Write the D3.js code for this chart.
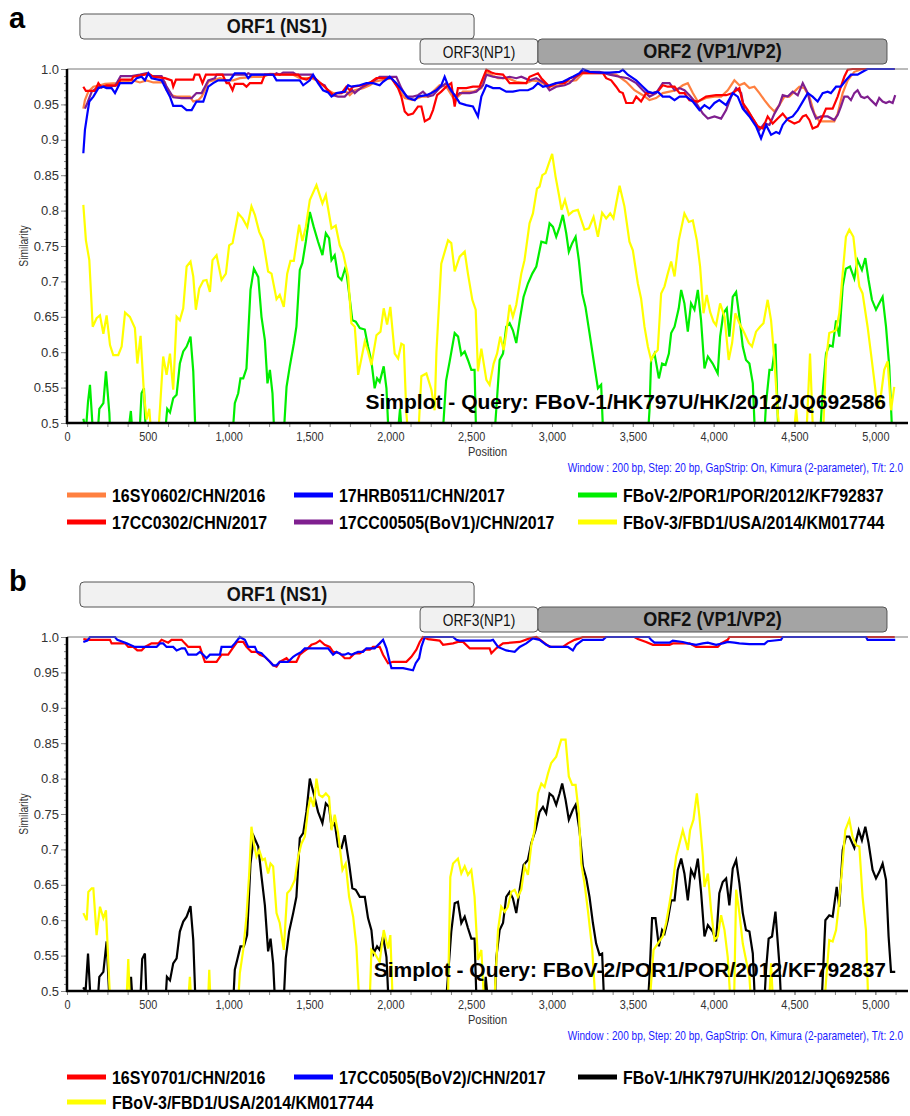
<!DOCTYPE html>
<html>
<head>
<meta charset="utf-8">
<script src="https://cdn.jsdelivr.net/npm/d3@7"></script>
<style>
body { margin: 0; background: #fff; }
svg { display: block; font-family: 'Liberation Sans', Arial, sans-serif; }
</style>
</head>
<body>
<div id="chart"></div>
<script>
// axis ticks
var xTicks = [0, 500, 1000, 1500, 2000, 2500, 3000, 3500, 4000, 4500, 5000];
var xTickLabels = ["0", "500", "1,000", "1,500", "2,000", "2,500", "3,000", "3,500", "4,000", "4,500", "5,000"];
var yTicks = [0.5, 0.55, 0.6, 0.65, 0.7, 0.75, 0.8, 0.85, 0.9, 0.95, 1.0];
var yTickLabels = ["0.5", "0.55", "0.6", "0.65", "0.7", "0.75", "0.8", "0.85", "0.9", "0.95", "1.0"];

// genome map boxes (bp)
var orfNames = ["ORF1 (NS1)", "ORF3(NP1)", "ORF2 (VP1/VP2)"];
var orfStart = [80, 2184, 2913];
var orfEnd = [2518, 2913, 5072];
var orfRow = [0, 1, 1];

// panel a : query FBoV-1/HK797U/HK/2012/JQ692586
var a16SY0602 = [[101,0.944],[111,0.956],[132,0.968],[163,0.975],[204,0.977],[235,0.979],[307,0.980],[332,0.982],[410,0.984],[451,0.981],[492,0.984],[534,0.981],[606,0.981],[616,0.970],[647,0.963],[678,0.961],[760,0.961],[781,0.954],[812,0.956],[833,0.961],[853,0.970],[874,0.982],[904,0.984],[946,0.987],[987,0.984],[1028,0.984],[1069,0.987],[1152,0.989],[1213,0.989],[1255,0.993],[1399,0.992],[1440,0.987],[1512,0.987],[1543,0.984],[1584,0.977],[1615,0.970],[1646,0.966],[1687,0.966],[1728,0.968],[1749,0.963],[1780,0.970],[1831,0.973],[1873,0.977],[1903,0.982],[2007,0.987],[2058,0.970],[2089,0.959],[2140,0.956],[2192,0.961],[2233,0.961],[2264,0.968],[2305,0.977],[2346,0.975],[2398,0.956],[2418,0.961],[2449,0.968],[2511,0.968],[2563,0.973],[2594,0.996],[2625,0.992],[2666,0.987],[2727,0.987],[2779,0.982],[2841,0.980],[2882,0.984],[2923,0.982],[2985,0.975],[3047,0.977],[3088,0.982],[3150,0.984],[3191,0.994],[3335,0.994],[3397,0.992],[3459,0.982],[3510,0.970],[3562,0.963],[3603,0.956],[3644,0.959],[3685,0.966],[3727,0.968],[3768,0.970],[3809,0.977],[3840,0.980],[3871,0.966],[3902,0.954],[3953,0.959],[4005,0.961],[4046,0.961],[4087,0.970],[4128,0.984],[4159,0.977],[4190,0.980],[4221,0.973],[4252,0.975],[4283,0.966],[4314,0.956],[4345,0.947],[4376,0.940],[4406,0.949],[4437,0.961],[4468,0.961],[4499,0.968],[4530,0.975],[4561,0.973],[4592,0.961],[4623,0.937],[4654,0.926],[4695,0.926],[4746,0.926],[4767,0.937],[4798,0.966],[4829,0.984],[4870,0.996],[4921,1.0],[5120,1.0]];

var a17CC0302 = [[101,0.975],[117,0.969],[173,0.969],[194,0.980],[214,0.974],[245,0.977],[307,0.977],[332,0.985],[400,0.985],[410,0.989],[482,0.992],[503,0.994],[534,0.989],[606,0.987],[647,0.984],[657,0.975],[674,0.985],[781,0.985],[791,0.992],[818,0.992],[838,0.980],[859,0.992],[962,0.992],[987,0.980],[1003,0.980],[1024,0.970],[1038,0.979],[1090,0.979],[1110,0.975],[1131,0.980],[1203,0.980],[1224,0.992],[1430,0.992],[1450,0.987],[1481,0.985],[1512,0.989],[1533,0.987],[1568,0.980],[1594,0.975],[1625,0.968],[1646,0.963],[1671,0.966],[1698,0.966],[1728,0.975],[1749,0.970],[1770,0.975],[1831,0.977],[1883,0.982],[1914,0.987],[2007,0.987],[2048,0.973],[2068,0.961],[2089,0.940],[2110,0.935],[2140,0.937],[2171,0.947],[2192,0.947],[2213,0.926],[2243,0.930],[2264,0.942],[2289,0.963],[2315,0.968],[2346,0.975],[2377,0.980],[2398,0.947],[2418,0.973],[2470,0.973],[2511,0.975],[2552,0.975],[2573,0.987],[2594,0.999],[2625,0.995],[2655,0.993],[2697,0.992],[2738,0.980],[2841,0.980],[2861,0.989],[2913,0.994],[2934,0.987],[2985,0.975],[3026,0.980],[3078,0.980],[3109,0.987],[3140,0.989],[3181,0.994],[3315,0.994],[3335,0.987],[3366,0.984],[3397,0.975],[3418,0.968],[3438,0.966],[3459,0.952],[3500,0.952],[3521,0.961],[3551,0.954],[3582,0.966],[3624,0.966],[3654,0.968],[3685,0.977],[3716,0.975],[3758,0.975],[3789,0.966],[3819,0.966],[3850,0.956],[3902,0.954],[3953,0.961],[4015,0.963],[4077,0.963],[4118,0.966],[4159,0.973],[4180,0.952],[4211,0.942],[4242,0.930],[4273,0.919],[4304,0.916],[4334,0.933],[4365,0.923],[4396,0.930],[4427,0.937],[4458,0.928],[4499,0.923],[4530,0.926],[4551,0.933],[4571,0.935],[4592,0.928],[4612,0.916],[4643,0.919],[4674,0.933],[4695,0.944],[4736,0.944],[4767,0.961],[4787,0.975],[4808,0.989],[4829,0.999],[4860,1.0],[5120,1.0]];

var a17HRB0511 = [[101,0.881],[111,0.914],[126,0.937],[138,0.954],[163,0.961],[194,0.973],[225,0.975],[245,0.973],[276,0.973],[297,0.966],[327,0.980],[400,0.980],[431,0.987],[461,0.989],[482,0.984],[503,0.994],[523,0.987],[585,0.984],[616,0.970],[637,0.961],[657,0.948],[709,0.948],[740,0.942],[771,0.942],[801,0.954],[843,0.954],[874,0.975],[904,0.980],[935,0.984],[1007,0.984],[1038,0.994],[1100,0.994],[1121,0.987],[1141,0.992],[1275,0.992],[1296,0.984],[1440,0.984],[1461,0.977],[1502,0.984],[1522,0.992],[1553,0.980],[1584,0.970],[1615,0.967],[1636,0.961],[1667,0.966],[1718,0.968],[1739,0.977],[1759,0.975],[1811,0.977],[1852,0.980],[1893,0.980],[1934,0.977],[1955,0.982],[1996,0.989],[2037,0.980],[2079,0.968],[2110,0.959],[2151,0.956],[2171,0.961],[2223,0.963],[2254,0.966],[2284,0.970],[2315,0.977],[2336,0.989],[2357,0.977],[2388,0.966],[2418,0.956],[2429,0.952],[2470,0.949],[2511,0.947],[2542,0.933],[2563,0.961],[2594,0.977],[2635,0.973],[2676,0.973],[2717,0.968],[2758,0.968],[2800,0.970],[2851,0.970],[2882,0.973],[2913,0.980],[2944,0.975],[2985,0.977],[3026,0.980],[3067,0.982],[3129,0.989],[3170,0.994],[3191,1.0],[3232,0.996],[3294,0.995],[3356,0.995],[3418,0.996],[3438,0.999],[3469,0.992],[3521,0.984],[3562,0.975],[3593,0.968],[3624,0.966],[3654,0.968],[3685,0.961],[3727,0.961],[3758,0.956],[3789,0.961],[3830,0.961],[3871,0.954],[3912,0.942],[3943,0.949],[3974,0.944],[4005,0.952],[4035,0.956],[4077,0.949],[4118,0.966],[4149,0.961],[4180,0.944],[4221,0.933],[4262,0.919],[4293,0.902],[4324,0.921],[4355,0.907],[4386,0.911],[4406,0.909],[4427,0.921],[4458,0.930],[4489,0.933],[4520,0.942],[4551,0.954],[4582,0.966],[4612,0.961],[4643,0.954],[4674,0.966],[4705,0.968],[4725,0.966],[4757,0.975],[4787,0.975],[4818,0.984],[4849,0.992],[4890,0.992],[4921,0.996],[4952,1.0],[5120,1.0]];

var a17CC00505 = [[111,0.944],[126,0.952],[153,0.968],[194,0.975],[245,0.976],[297,0.976],[332,0.990],[400,0.990],[451,0.992],[492,0.994],[523,0.990],[585,0.990],[616,0.975],[657,0.960],[709,0.959],[771,0.959],[801,0.966],[833,0.966],[874,0.984],[915,0.987],[925,0.992],[1110,0.992],[1121,0.994],[1141,0.992],[1285,0.992],[1296,0.994],[1316,0.992],[1337,0.995],[1399,0.995],[1419,0.992],[1512,0.992],[1543,0.984],[1564,0.980],[1594,0.977],[1615,0.968],[1646,0.963],[1677,0.961],[1718,0.961],[1739,0.966],[1765,0.970],[1780,0.966],[1800,0.970],[1831,0.975],[1873,0.980],[1903,0.984],[1934,0.989],[2037,0.989],[2068,0.973],[2099,0.961],[2140,0.961],[2171,0.963],[2202,0.968],[2233,0.961],[2264,0.963],[2305,0.973],[2346,0.980],[2377,0.968],[2408,0.961],[2429,0.966],[2491,0.966],[2532,0.968],[2573,0.977],[2594,0.992],[2635,0.989],[2697,0.987],[2738,0.989],[2779,0.987],[2810,0.989],[2861,0.984],[2903,0.987],[2954,0.980],[2985,0.970],[3026,0.975],[3078,0.977],[3109,0.980],[3150,0.989],[3191,0.996],[3294,0.996],[3356,0.992],[3418,0.989],[3469,0.987],[3521,0.980],[3562,0.970],[3603,0.961],[3644,0.966],[3685,0.980],[3727,0.980],[3758,0.970],[3789,0.973],[3819,0.970],[3850,0.963],[3891,0.952],[3933,0.937],[3964,0.930],[4005,0.933],[4046,0.930],[4077,0.942],[4108,0.961],[4139,0.973],[4170,0.966],[4190,0.942],[4221,0.937],[4252,0.926],[4283,0.914],[4314,0.923],[4345,0.921],[4376,0.937],[4406,0.949],[4427,0.963],[4458,0.961],[4489,0.968],[4520,0.963],[4551,0.980],[4582,0.966],[4602,0.947],[4633,0.930],[4664,0.933],[4705,0.933],[4746,0.928],[4767,0.935],[4787,0.947],[4808,0.961],[4829,0.961],[4849,0.956],[4870,0.966],[4890,0.970],[4911,0.961],[4932,0.959],[4952,0.961],[4973,0.956],[5004,0.949],[5024,0.959],[5045,0.954],[5066,0.952],[5086,0.954],[5107,0.952],[5123,0.963]];

var aFBoV2 = [[101,0.506],[117,0.49],[130,0.53],[142,0.554],[165,0.47],[185,0.47],[200,0.52],[225,0.528],[241,0.573],[262,0.514],[270,0.47],[370,0.47],[395,0.517],[410,0.47],[445,0.47],[461,0.542],[476,0.549],[490,0.47],[600,0.47],[620,0.52],[637,0.515],[657,0.535],[678,0.54],[698,0.584],[719,0.601],[740,0.608],[764,0.622],[781,0.573],[797,0.47],[1020,0.47],[1038,0.528],[1059,0.542],[1073,0.563],[1090,0.563],[1110,0.577],[1135,0.688],[1156,0.718],[1183,0.706],[1203,0.650],[1224,0.617],[1240,0.556],[1255,0.575],[1271,0.542],[1285,0.47],[1337,0.47],[1358,0.551],[1378,0.580],[1403,0.612],[1419,0.636],[1440,0.716],[1456,0.726],[1477,0.756],[1502,0.798],[1526,0.777],[1553,0.756],[1580,0.737],[1601,0.768],[1621,0.761],[1636,0.730],[1656,0.737],[1677,0.707],[1698,0.702],[1724,0.721],[1745,0.683],[1765,0.645],[1786,0.643],[1811,0.634],[1842,0.632],[1862,0.608],[1883,0.587],[1903,0.549],[1918,0.563],[1934,0.558],[1959,0.580],[1976,0.549],[1992,0.47],[2040,0.47],[2060,0.52],[2075,0.47],[2320,0.47],[2345,0.56],[2367,0.587],[2398,0.627],[2419,0.622],[2439,0.596],[2460,0.601],[2480,0.589],[2501,0.575],[2521,0.575],[2532,0.47],[2640,0.47],[2655,0.518],[2676,0.589],[2697,0.598],[2717,0.636],[2738,0.641],[2758,0.631],[2779,0.613],[2800,0.645],[2824,0.678],[2851,0.697],[2878,0.711],[2903,0.721],[2934,0.756],[2964,0.754],[2985,0.782],[3006,0.777],[3026,0.763],[3047,0.777],[3067,0.794],[3088,0.768],[3104,0.742],[3125,0.754],[3146,0.763],[3166,0.730],[3187,0.683],[3207,0.664],[3232,0.627],[3257,0.589],[3284,0.549],[3304,0.554],[3319,0.47],[3590,0.47],[3603,0.518],[3613,0.589],[3634,0.598],[3661,0.563],[3681,0.584],[3702,0.582],[3723,0.598],[3737,0.627],[3758,0.636],[3784,0.662],[3799,0.688],[3819,0.669],[3840,0.629],[3860,0.669],[3881,0.660],[3902,0.688],[3922,0.645],[3943,0.577],[3964,0.594],[3994,0.584],[4025,0.570],[4040,0.622],[4060,0.655],[4081,0.662],[4097,0.622],[4118,0.678],[4139,0.685],[4159,0.650],[4180,0.608],[4200,0.589],[4221,0.584],[4242,0.556],[4258,0.47],[4310,0.47],[4324,0.528],[4345,0.575],[4361,0.575],[4382,0.612],[4402,0.47],[4654,0.47],[4674,0.542],[4695,0.598],[4715,0.610],[4736,0.608],[4757,0.645],[4777,0.622],[4798,0.693],[4818,0.718],[4843,0.721],[4870,0.704],[4890,0.730],[4917,0.716],[4938,0.733],[4958,0.702],[4979,0.674],[5004,0.660],[5024,0.669],[5045,0.678],[5066,0.636],[5086,0.580],[5107,0.47]];

var aFBoV3 = [[101,0.808],[117,0.758],[138,0.730],[159,0.636],[183,0.648],[204,0.652],[225,0.626],[245,0.652],[266,0.610],[286,0.596],[317,0.596],[338,0.608],[359,0.656],[389,0.650],[420,0.634],[435,0.584],[455,0.623],[476,0.542],[492,0.505],[509,0.52],[525,0.47],[560,0.47],[575,0.52],[595,0.594],[616,0.568],[637,0.598],[657,0.547],[678,0.650],[698,0.645],[719,0.662],[740,0.721],[764,0.728],[781,0.707],[797,0.660],[818,0.690],[843,0.701],[863,0.702],[884,0.685],[900,0.730],[925,0.737],[956,0.702],[983,0.711],[1003,0.751],[1024,0.754],[1059,0.796],[1086,0.789],[1115,0.777],[1141,0.806],[1162,0.794],[1189,0.770],[1213,0.758],[1244,0.714],[1265,0.711],[1296,0.675],[1316,0.681],[1341,0.664],[1362,0.711],[1382,0.729],[1403,0.729],[1436,0.780],[1456,0.757],[1477,0.777],[1502,0.815],[1543,0.836],[1580,0.810],[1601,0.822],[1636,0.775],[1662,0.779],[1687,0.751],[1708,0.740],[1739,0.707],[1759,0.641],[1780,0.636],[1801,0.568],[1842,0.615],[1862,0.601],[1883,0.582],[1914,0.624],[1939,0.629],[1959,0.662],[1980,0.639],[2000,0.664],[2027,0.598],[2048,0.591],[2068,0.612],[2083,0.610],[2099,0.514],[2115,0.47],[2170,0.47],[2192,0.566],[2223,0.570],[2254,0.547],[2274,0.518],[2285,0.60],[2315,0.725],[2357,0.758],[2377,0.754],[2398,0.714],[2429,0.735],[2460,0.742],[2480,0.711],[2507,0.674],[2528,0.660],[2542,0.573],[2563,0.605],[2594,0.561],[2614,0.554],[2639,0.584],[2660,0.598],[2680,0.622],[2701,0.603],[2717,0.627],[2738,0.667],[2758,0.650],[2779,0.667],[2810,0.711],[2830,0.730],[2861,0.782],[2882,0.796],[2907,0.831],[2923,0.834],[2940,0.850],[2960,0.853],[2981,0.867],[3001,0.880],[3022,0.848],[3043,0.822],[3059,0.801],[3080,0.815],[3104,0.794],[3129,0.799],[3160,0.801],[3181,0.787],[3201,0.773],[3228,0.775],[3257,0.791],[3284,0.763],[3310,0.797],[3335,0.789],[3360,0.796],[3380,0.789],[3397,0.810],[3418,0.835],[3448,0.806],[3479,0.756],[3500,0.744],[3531,0.697],[3551,0.676],[3572,0.636],[3593,0.608],[3613,0.589],[3634,0.598],[3654,0.603],[3675,0.683],[3696,0.693],[3716,0.711],[3737,0.728],[3758,0.707],[3784,0.758],[3819,0.796],[3846,0.784],[3871,0.786],[3896,0.758],[3916,0.721],[3937,0.655],[3957,0.681],[3978,0.657],[3999,0.643],[4015,0.638],[4040,0.669],[4067,0.650],[4093,0.589],[4114,0.613],[4134,0.655],[4159,0.641],[4190,0.627],[4217,0.613],[4237,0.608],[4262,0.629],[4287,0.636],[4308,0.641],[4334,0.674],[4355,0.645],[4376,0.589],[4396,0.514],[4417,0.47],[4490,0.47],[4510,0.52],[4530,0.47],[4571,0.47],[4596,0.598],[4617,0.47],[4674,0.47],[4695,0.589],[4715,0.627],[4757,0.631],[4777,0.655],[4798,0.711],[4818,0.763],[4839,0.773],[4864,0.763],[4880,0.730],[4901,0.693],[4921,0.683],[4952,0.636],[4973,0.598],[4993,0.561],[5014,0.52],[5035,0.54],[5055,0.575],[5076,0.587],[5097,0.518],[5117,0.551]];

// panel b : query FBoV-2/POR1/POR/2012/KF792837
var b16SY0701 = [[101,0.997],[132,0.996],[266,0.996],[276,0.991],[359,0.991],[379,0.986],[410,0.986],[435,0.981],[461,0.981],[482,0.986],[523,0.991],[565,0.991],[585,0.996],[626,0.992],[647,0.996],[709,0.996],[729,0.991],[750,0.986],[822,0.986],[853,0.965],[925,0.965],[956,0.975],[997,0.975],[1024,0.984],[1053,0.993],[1090,0.993],[1110,0.986],[1141,0.979],[1172,0.979],[1193,0.975],[1224,0.972],[1255,0.965],[1275,0.960],[1296,0.958],[1316,0.965],[1358,0.970],[1378,0.965],[1419,0.965],[1440,0.975],[1461,0.979],[1491,0.984],[1512,0.989],[1539,0.991],[1564,0.995],[1594,0.989],[1625,0.986],[1646,0.979],[1687,0.977],[1718,0.970],[1749,0.970],[1780,0.977],[1811,0.977],[1842,0.982],[1873,0.982],[1893,0.986],[1934,0.986],[1955,0.975],[1986,0.963],[2017,0.965],[2058,0.965],[2099,0.965],[2130,0.972],[2161,0.982],[2182,0.993],[2202,1.0],[2233,0.997],[2305,0.995],[2326,0.989],[2388,0.991],[2418,0.993],[2450,0.993],[2491,0.984],[2614,0.984],[2625,0.977],[2655,0.984],[2697,0.991],[2800,0.993],[2861,0.998],[2903,1.0],[2944,0.993],[2985,0.986],[3067,0.986],[3098,0.991],[3140,0.996],[3170,0.998],[3190,1.0],[3510,1.0],[3531,0.997],[3582,0.993],[3624,0.989],[3727,0.989],[3747,0.991],[3850,0.991],[3891,0.986],[4025,0.986],[4046,0.991],[4087,0.996],[4097,1.0],[5120,1.0]];

var b17CC0505 = [[101,0.993],[126,0.995],[142,1.0],[297,1.0],[311,0.996],[348,0.993],[369,0.991],[389,0.989],[420,0.986],[554,0.986],[575,0.991],[595,0.991],[616,0.986],[657,0.986],[678,0.981],[709,0.984],[729,0.984],[750,0.975],[801,0.975],[822,0.979],[843,0.975],[863,0.970],[884,0.975],[946,0.975],[956,0.986],[1018,0.986],[1038,0.991],[1069,1.0],[1100,0.996],[1121,0.986],[1162,0.986],[1176,0.979],[1203,0.977],[1224,0.972],[1255,0.965],[1275,0.960],[1296,0.960],[1316,0.965],[1368,0.965],[1399,0.972],[1419,0.975],[1450,0.979],[1471,0.984],[1615,0.984],[1646,0.975],[1667,0.979],[1698,0.975],[1718,0.975],[1739,0.977],[1759,0.975],[1800,0.979],[1831,0.979],[1852,0.984],[1903,0.984],[1934,0.991],[1955,0.996],[1976,0.984],[1996,0.965],[2007,0.956],[2079,0.956],[2140,0.953],[2157,0.963],[2178,0.970],[2192,0.986],[2213,1.0],[2388,1.0],[2408,0.996],[2429,0.995],[2620,0.995],[2635,0.996],[2666,0.986],[2717,0.981],[2769,0.979],[2800,0.986],[2841,0.991],[2882,0.998],[2923,0.996],[2964,0.989],[2995,0.986],[3098,0.986],[3129,0.981],[3150,0.989],[3191,0.996],[3315,0.996],[3335,1.0],[3600,1.0],[3613,0.996],[3634,0.992],[3727,0.992],[3747,0.995],[3809,0.993],[3840,0.991],[3891,0.989],[3933,0.991],[3964,0.992],[4015,0.989],[4056,0.991],[4087,0.993],[4128,0.992],[4159,0.991],[4221,0.990],[4252,0.990],[4314,0.990],[4334,0.994],[4417,0.996],[4427,1.0],[4942,1.0],[4952,0.996],[5123,0.996]];

var bFBoV1 = [[100,0.505],[115,0.50],[130,0.553],[150,0.47],[185,0.47],[200,0.52],[225,0.527],[245,0.57],[266,0.47],[380,0.47],[396,0.52],[410,0.47],[450,0.47],[465,0.545],[482,0.553],[495,0.47],[605,0.47],[618,0.52],[637,0.515],[657,0.539],[678,0.546],[698,0.584],[719,0.598],[740,0.605],[764,0.620],[781,0.572],[797,0.47],[1025,0.47],[1038,0.530],[1053,0.544],[1073,0.563],[1094,0.563],[1114,0.579],[1135,0.680],[1156,0.718],[1183,0.704],[1203,0.662],[1224,0.621],[1244,0.556],[1259,0.574],[1275,0.539],[1290,0.47],[1337,0.47],[1353,0.546],[1374,0.584],[1399,0.610],[1419,0.633],[1440,0.716],[1461,0.723],[1481,0.753],[1502,0.800],[1526,0.779],[1553,0.753],[1580,0.737],[1601,0.765],[1621,0.760],[1636,0.732],[1656,0.737],[1677,0.704],[1698,0.702],[1718,0.720],[1745,0.680],[1765,0.645],[1786,0.643],[1811,0.633],[1842,0.633],[1862,0.603],[1883,0.586],[1897,0.553],[1918,0.563],[1934,0.558],[1955,0.577],[1976,0.548],[1992,0.47],[2340,0.47],[2377,0.584],[2398,0.624],[2418,0.626],[2439,0.596],[2460,0.605],[2480,0.589],[2501,0.574],[2521,0.574],[2535,0.47],[2575,0.47],[2590,0.52],[2610,0.47],[2645,0.47],[2655,0.546],[2676,0.586],[2697,0.596],[2717,0.633],[2738,0.640],[2758,0.631],[2779,0.610],[2800,0.643],[2824,0.678],[2851,0.685],[2872,0.709],[2898,0.727],[2923,0.753],[2944,0.760],[2964,0.751],[2985,0.779],[3006,0.775],[3026,0.763],[3047,0.779],[3063,0.793],[3084,0.770],[3104,0.742],[3129,0.756],[3146,0.763],[3170,0.727],[3191,0.676],[3212,0.659],[3232,0.633],[3253,0.596],[3273,0.567],[3294,0.551],[3310,0.553],[3325,0.47],[3590,0.47],[3603,0.520],[3619,0.603],[3640,0.603],[3661,0.563],[3681,0.586],[3696,0.581],[3716,0.600],[3737,0.628],[3758,0.628],[3778,0.671],[3799,0.687],[3819,0.666],[3840,0.628],[3860,0.671],[3881,0.661],[3902,0.687],[3922,0.640],[3943,0.577],[3964,0.593],[3994,0.584],[4015,0.570],[4035,0.638],[4056,0.654],[4077,0.659],[4097,0.621],[4118,0.673],[4139,0.685],[4159,0.652],[4180,0.610],[4200,0.586],[4221,0.584],[4242,0.553],[4258,0.47],[4310,0.47],[4324,0.530],[4340,0.574],[4361,0.577],[4382,0.612],[4406,0.539],[4420,0.47],[4665,0.47],[4691,0.600],[4715,0.607],[4736,0.605],[4761,0.647],[4777,0.619],[4798,0.699],[4818,0.718],[4839,0.718],[4870,0.702],[4897,0.727],[4917,0.713],[4938,0.732],[4958,0.709],[4983,0.671],[5004,0.659],[5024,0.668],[5045,0.680],[5066,0.657],[5082,0.577],[5097,0.527],[5123,0.527]];

var bFBoV3 = [[101,0.610],[122,0.600],[132,0.640],[153,0.645],[163,0.645],[183,0.579],[204,0.619],[225,0.603],[241,0.614],[256,0.539],[270,0.47],[365,0.47],[379,0.545],[392,0.47],[745,0.47],[760,0.52],[772,0.47],[870,0.47],[880,0.53],[890,0.47],[1055,0.47],[1069,0.525],[1090,0.558],[1110,0.605],[1127,0.666],[1141,0.732],[1156,0.708],[1172,0.690],[1189,0.699],[1209,0.685],[1224,0.687],[1244,0.666],[1259,0.680],[1275,0.676],[1296,0.610],[1316,0.596],[1341,0.558],[1362,0.638],[1382,0.643],[1409,0.657],[1430,0.690],[1450,0.708],[1471,0.718],[1491,0.756],[1506,0.774],[1526,0.760],[1543,0.800],[1559,0.777],[1580,0.774],[1601,0.779],[1621,0.774],[1636,0.727],[1656,0.749],[1677,0.723],[1704,0.671],[1724,0.680],[1745,0.633],[1770,0.605],[1790,0.563],[1811,0.47],[1870,0.47],[1883,0.558],[1903,0.553],[1934,0.541],[1959,0.586],[1986,0.560],[2000,0.579],[2017,0.47],[2355,0.47],[2371,0.661],[2388,0.680],[2418,0.687],[2439,0.666],[2460,0.676],[2480,0.664],[2501,0.671],[2521,0.633],[2542,0.544],[2563,0.558],[2583,0.47],[2640,0.47],[2666,0.586],[2686,0.619],[2707,0.612],[2727,0.619],[2748,0.640],[2769,0.643],[2789,0.633],[2810,0.643],[2830,0.676],[2851,0.664],[2872,0.706],[2892,0.727],[2913,0.779],[2934,0.793],[2954,0.788],[2975,0.807],[2995,0.822],[3026,0.831],[3057,0.855],[3084,0.855],[3104,0.803],[3125,0.791],[3146,0.791],[3166,0.751],[3181,0.680],[3201,0.652],[3222,0.614],[3249,0.558],[3273,0.47],[3600,0.47],[3628,0.558],[3654,0.567],[3685,0.577],[3706,0.596],[3727,0.624],[3747,0.652],[3768,0.690],[3789,0.709],[3809,0.727],[3830,0.709],[3840,0.699],[3854,0.727],[3875,0.742],[3896,0.779],[3912,0.746],[3933,0.690],[3943,0.647],[3964,0.666],[3984,0.614],[4005,0.572],[4025,0.577],[4046,0.607],[4067,0.586],[4087,0.548],[4108,0.47],[4125,0.47],[4139,0.643],[4159,0.610],[4180,0.567],[4200,0.544],[4221,0.520],[4235,0.47],[4340,0.47],[4355,0.539],[4370,0.47],[4680,0.47],[4715,0.572],[4736,0.570],[4757,0.586],[4773,0.619],[4794,0.671],[4814,0.727],[4839,0.742],[4859,0.718],[4880,0.706],[4901,0.704],[4921,0.633],[4942,0.586],[4958,0.47]];

var panels = [
  {
    letter: "a", top: 69, letterY: 28, legendY: [495, 522],
    title: "Simplot - Query: FBoV-1/HK797U/HK/2012/JQ692586",
    // drawing order
    series: [
      {name: "FBoV-2/POR1/POR/2012/KF792837", color: "#00ee00", values: aFBoV2, slot: [0, 2]},
      {name: "FBoV-3/FBD1/USA/2014/KM017744", color: "#ffff00", values: aFBoV3, slot: [1, 2]},
      {name: "16SY0602/CHN/2016", color: "#ff8040", values: a16SY0602, slot: [0, 0]},
      {name: "17CC00505(BoV1)/CHN/2017", color: "#7f1f8f", values: a17CC00505, slot: [1, 1]},
      {name: "17CC0302/CHN/2017", color: "#ff0000", values: a17CC0302, slot: [1, 0]},
      {name: "17HRB0511/CHN/2017", color: "#0000ff", values: a17HRB0511, slot: [0, 1]}
    ]
  },
  {
    letter: "b", top: 637, letterY: 591, legendY: [1077, 1102],
    title: "Simplot - Query: FBoV-2/POR1/POR/2012/KF792837",
    series: [
      {name: "FBoV-1/HK797U/HK/2012/JQ692586", color: "#000000", values: bFBoV1, slot: [0, 2]},
      {name: "FBoV-3/FBD1/USA/2014/KM017744", color: "#ffff00", values: bFBoV3, slot: [1, 0]},
      {name: "16SY0701/CHN/2016", color: "#ff0000", values: b16SY0701, slot: [0, 0]},
      {name: "17CC0505(BoV2)/CHN/2017", color: "#0000ff", values: b17CC0505, slot: [0, 1]}
    ]
  }
];

var width = 910, height = 1116;
var plotLeft = 67, plotRight = 908, plotH = 354;
var legendCols = [67, 294, 578];

// condensed look: place text at (tx, ty) and squeeze it horizontally
function squeeze(sel, tx, ty, f, extra) {
    sel.attr("x", 0).attr("y", 0)
        .attr("transform", "translate(" + tx + "," + ty + ")" + (extra || "") + " scale(" + f + ",1)");
}

var svg = d3.select("#chart").append("svg")
    .attr("width", width)
    .attr("height", height);

var x = d3.scaleLinear().domain([0, 5202]).range([plotLeft, plotRight]);

panels.forEach(function (p, pi) {
    var top = p.top, bottom = top + plotH;
    var y = d3.scaleLinear().domain([0.5, 1]).range([bottom, top]);
    var g = svg.append("g");

    // panel letter
    g.append("text")
        .attr("x", 9).attr("y", p.letterY)
        .attr("font-size", 29).attr("font-weight", "bold")
        .text(p.letter);

    // genome map
    orfNames.forEach(function (name, i) {
        var y0 = orfRow[i] === 0 ? top - 55 : top - 30;
        g.append("rect")
            .attr("x", x(orfStart[i])).attr("y", y0)
            .attr("width", x(orfEnd[i]) - x(orfStart[i])).attr("height", 25)
            .attr("rx", 4)
            .attr("fill", i === 2 ? "#a4a4a4" : "#f1f1f1")
            .attr("stroke", "#555").attr("stroke-width", 1);
        g.append("text")
            .attr("text-anchor", "middle")
            .attr("font-size", i === 1 ? 16 : 21)
            .attr("font-weight", i === 1 ? "normal" : "bold")
            .attr("fill", "#111")
            .text(name)
            .call(squeeze, (x(orfStart[i]) + x(orfEnd[i])) / 2, y0 + 19, 0.86);
    });

    // minor ticks
    var yMinor = d3.axisLeft(y).tickValues(d3.range(0.5, 1.0001, 0.01)).tickSize(3).tickFormat("");
    g.append("g").attr("transform", "translate(" + plotLeft + ",0)").call(yMinor)
        .call(function (s) { s.select(".domain").remove(); s.selectAll("line").attr("stroke", "#888"); });
    var xMinor = d3.axisBottom(x).tickValues(d3.range(0, 5202, 125)).tickSize(4).tickFormat("");
    g.append("g").attr("transform", "translate(0," + bottom + ")").call(xMinor)
        .call(function (s) { s.select(".domain").remove(); s.selectAll("line").attr("stroke", "#888"); });

    // major axes
    var yAxis = d3.axisLeft(y).tickValues(yTicks).tickSize(6).tickPadding(2)
        .tickFormat(function (d, i) { return yTickLabels[i]; });
    g.append("g").attr("transform", "translate(" + plotLeft + ",0)").call(yAxis)
        .call(function (s) {
            s.select(".domain").remove();
            s.selectAll("line").attr("stroke", "#888");
            s.selectAll("text").attr("font-size", 13).attr("fill", "#333")
                .attr("font-family", "'Liberation Sans', Arial, sans-serif");
        });
    var xAxis = d3.axisBottom(x).tickValues(xTicks).tickSize(4).tickPadding(5)
        .tickFormat(function (d, i) { return xTickLabels[i]; });
    g.append("g").attr("transform", "translate(0," + bottom + ")").call(xAxis)
        .call(function (s) {
            s.select(".domain").remove();
            s.selectAll("line").attr("stroke", "#888");
            s.selectAll("text").attr("font-size", 13).attr("fill", "#333")
                .attr("font-family", "'Liberation Sans', Arial, sans-serif")
                .attr("transform", "scale(0.84,1)");
        });

    // axis titles
    g.append("text")
        .attr("text-anchor", "middle").attr("font-size", 12).attr("fill", "#333")
        .text("Similarity")
        .call(squeeze, 28, (top + bottom) / 2, 0.85, " rotate(-90)");
    g.append("text")
        .attr("text-anchor", "middle").attr("font-size", 13).attr("fill", "#333")
        .text("Position")
        .call(squeeze, (plotLeft + plotRight) / 2, bottom + 33, 0.85);
    g.append("text")
        .attr("text-anchor", "end").attr("font-size", 12).attr("fill", "#1a1aff")
        .text("Window : 200 bp, Step: 20 bp, GapStrip: On, Kimura (2-parameter), T/t: 2.0")
        .call(squeeze, 903, bottom + 49, 0.84);

    // lines
    var clipId = "clip" + pi;
    svg.append("clipPath").attr("id", clipId)
        .append("rect").attr("x", plotLeft).attr("y", top - 3)
        .attr("width", plotRight - plotLeft).attr("height", plotH + 3);

    var line = d3.line()
        .x(function (d) { return x(d[0]); })
        .y(function (d) { return y(d[1]); });

    var lines = g.append("g").attr("clip-path", "url(#" + clipId + ")");
    p.series.forEach(function (s) {
        lines.append("path")
            .datum(s.values)
            .attr("fill", "none")
            .attr("stroke", s.color)
            .attr("stroke-width", 2.2)
            .attr("d", line);
    });

    // query label
    g.append("text")
        .attr("x", 886).attr("y", bottom - 14)
        .attr("text-anchor", "end").attr("font-size", 21).attr("font-weight", "bold")
        .text(p.title);

    // frame
    g.append("line").attr("x1", plotLeft).attr("x2", plotRight).attr("y1", top).attr("y2", top)
        .attr("stroke", "#777").attr("stroke-width", 1);
    g.append("line").attr("x1", plotLeft).attr("x2", plotLeft).attr("y1", top).attr("y2", bottom + 1)
        .attr("stroke", "#000").attr("stroke-width", 2.5);
    g.append("line").attr("x1", plotLeft - 1).attr("x2", plotRight).attr("y1", bottom).attr("y2", bottom)
        .attr("stroke", "#000").attr("stroke-width", 2.5);

    // legend
    p.series.forEach(function (s) {
        var lx = legendCols[s.slot[1]], ly = p.legendY[s.slot[0]];
        g.append("line").attr("x1", lx).attr("x2", lx + 39).attr("y1", ly).attr("y2", ly)
            .attr("stroke", s.color).attr("stroke-width", 5);
        g.append("text")
            .attr("font-size", 19).attr("font-weight", "bold")
            .text(s.name)
            .call(squeeze, lx + 45, ly + 7, 0.84);
    });
});
</script>
</body>
</html>
